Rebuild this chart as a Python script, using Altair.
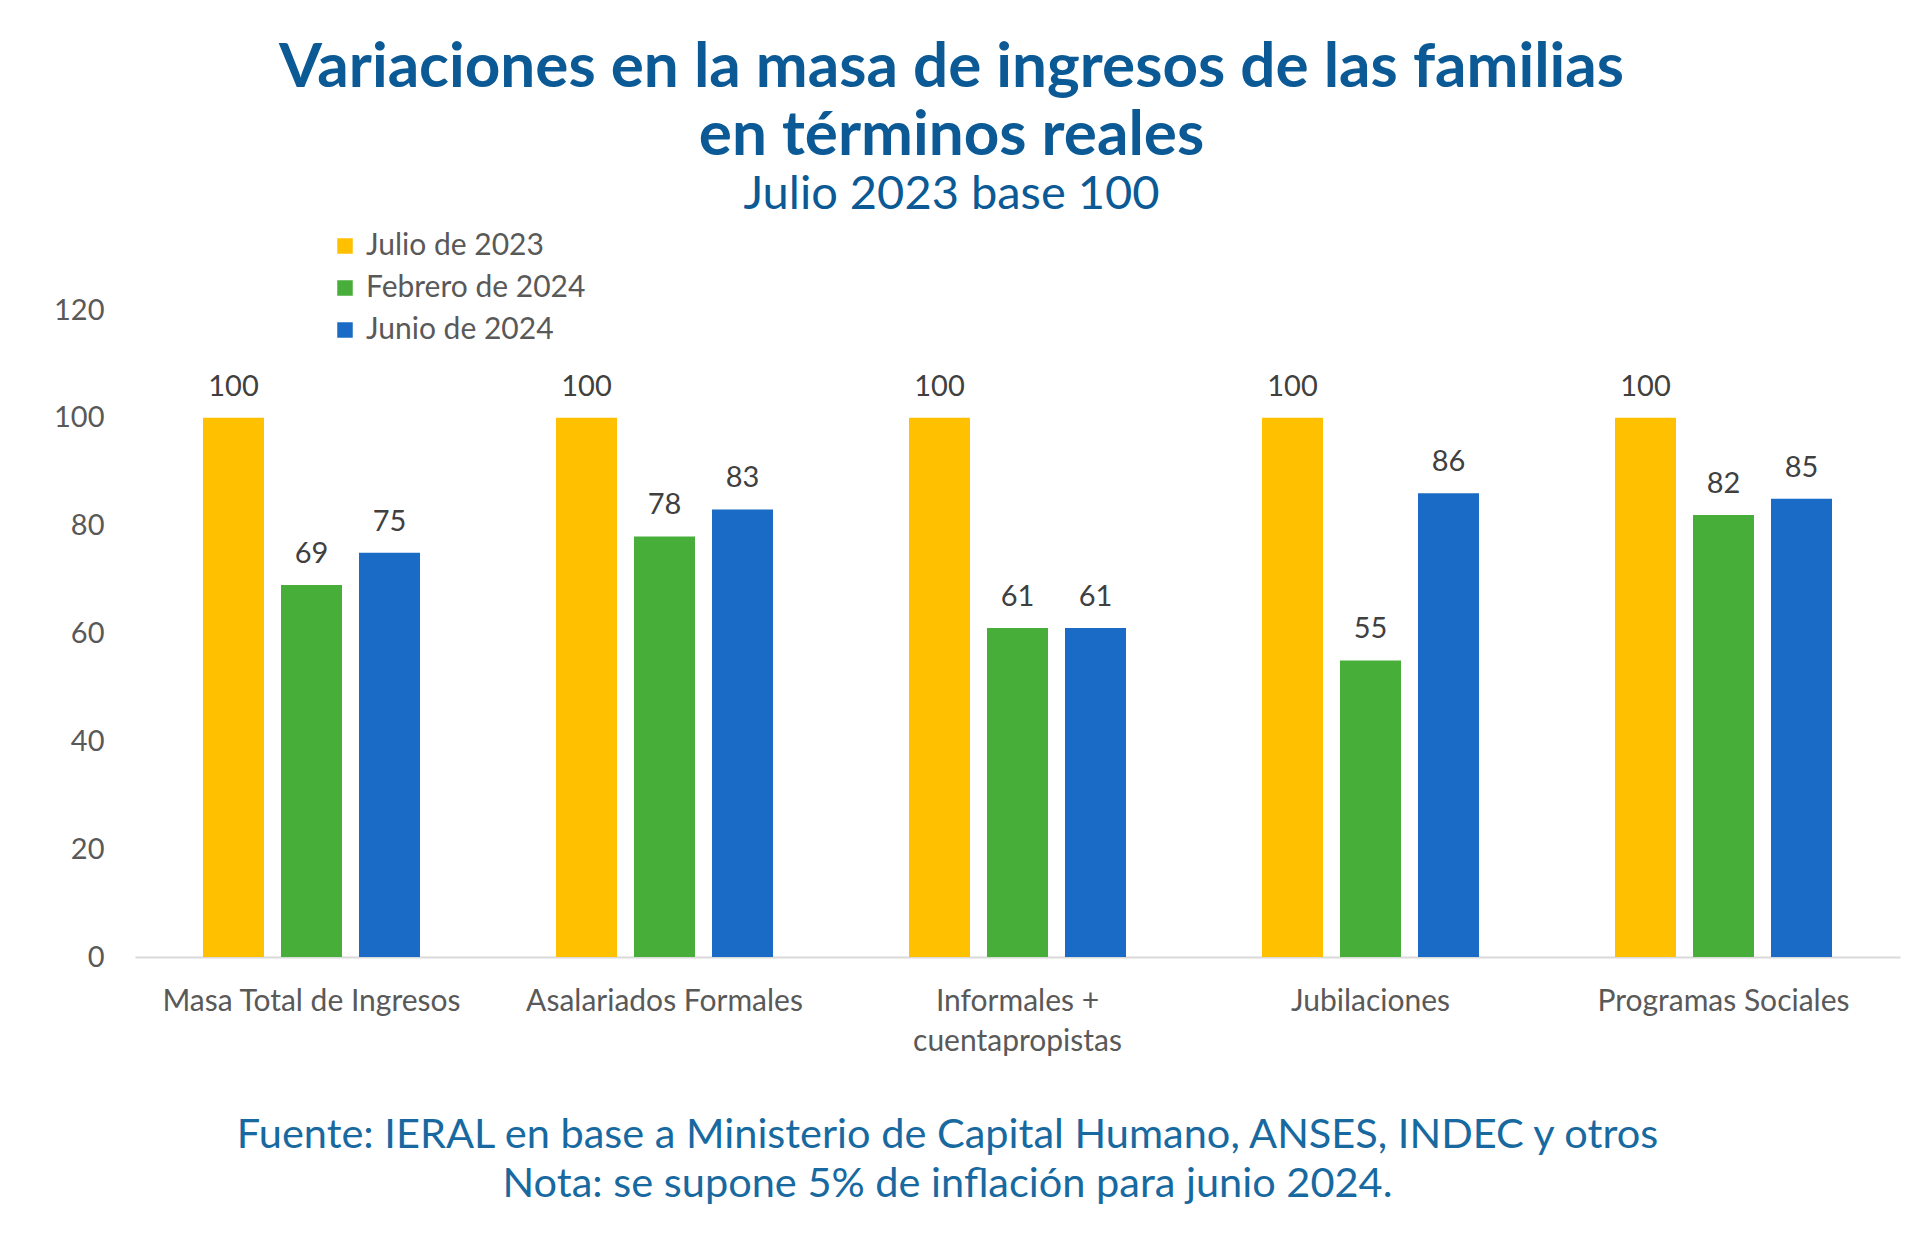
import altair as alt
import pandas as pd

categories = ["Masa Total de Ingresos", "Asalariados Formales", "Informales + cuentapropistas",
              "Jubilaciones", "Programas Sociales"]
series = ["Julio de 2023", "Febrero de 2024", "Junio de 2024"]
julio_2023 = [100, 100, 100, 100, 100]
febrero_2024 = [69, 78, 61, 55, 82]
junio_2024 = [75, 83, 61, 86, 85]
colors = ["#FFC000", "#48AE3A", "#1A6BC6"]
y_ticks = [0, 20, 40, 60, 80, 100, 120]

title_lines = ["Variaciones en la masa de ingresos de las familias", "en términos reales"]
subtitle = "Julio 2023 base 100"
footer_lines = ["Fuente: IERAL en base a Ministerio de Capital Humano, ANSES, INDEC y otros",
                "Nota: se supone 5% de inflación para junio 2024."]

rows = []
for s, vals in zip(series, [julio_2023, febrero_2024, junio_2024]):
    for c, v in zip(categories, vals):
        rows.append({"cat": c, "serie": s, "valor": v})
df = pd.DataFrame(rows)

FONT = "Lato"
TITLE_COLOR = "#0b5a96"
FOOT_COLOR = "#1769a0"
GRAY = "#595959"

x = alt.X(
    "cat:N", sort=categories,
    scale=alt.Scale(paddingInner=0, paddingOuter=0),
    axis=alt.Axis(
        labelAngle=0, ticks=False, domain=True, domainColor="#d9d9d9", domainWidth=2,
        labelFont=FONT, labelFontSize=30, labelColor=GRAY, labelPadding=29,
        labelBaseline="top", labelLineHeight=40, labelLimit=0,
        labelExpr="datum.label == 'Informales + cuentapropistas' ? ['Informales +', 'cuentapropistas'] : datum.label",
        title=footer_lines, titleFont=FONT, titleFontSize=41.5, titleColor=FOOT_COLOR,
        titleFontWeight="normal", titleX=812, titleY=157, titleAlign="center",
        titleBaseline="top", titleLineHeight=49, titleLimit=0,
    ),
)
xoff = alt.XOffset("serie:N", sort=series,
                   scale=alt.Scale(paddingInner=0.218, paddingOuter=0.872))
y = alt.Y(
    "valor:Q",
    scale=alt.Scale(domain=[0, 120], nice=False),
    axis=alt.Axis(values=y_ticks, domain=False, ticks=False, grid=False,
                  labelFont=FONT, labelFontSize=29, labelColor=GRAY, labelPadding=31,
                  title=None),
)
color = alt.Color(
    "serie:N", sort=series,
    scale=alt.Scale(domain=series, range=colors),
    legend=alt.Legend(orient="none", legendX=195, legendY=-79, title=None,
                      symbolType="square", symbolSize=240, symbolStrokeWidth=0,
                      labelFont=FONT, labelFontSize=30, labelColor=GRAY, labelLimit=0,
                      rowPadding=12, labelOffset=6),
)

bars = alt.Chart(df).mark_bar().encode(x=x, xOffset=xoff, y=y, color=color)
labels = alt.Chart(df).mark_text(dy=-31, baseline="middle", font=FONT, fontSize=29,
                                 color="#404040").encode(
    x=alt.X("cat:N", sort=categories), xOffset=alt.XOffset("serie:N", sort=series),
    y="valor:Q", text="valor:Q")

chart = alt.layer(bars, labels).properties(
    width=1765, height=647,
    background="white",
    padding={"left": 127, "top": 302, "right": 12, "bottom": 262},
    autosize=alt.AutoSizeParams(type="none"),
    title=alt.TitleParams(
        text=title_lines, subtitle=subtitle, font=FONT, fontSize=62, fontWeight="bold",
        color=TITLE_COLOR, lineHeight=68, subtitleFont=FONT, subtitleFontSize=47,
        subtitleColor=TITLE_COLOR, subtitlePadding=4, anchor="middle", frame="group",
        dx=-66, offset=12,
    ),
).configure_view(strokeWidth=0)

chart.save("out.html", embed_options={"renderer": "svg", "actions": False})
